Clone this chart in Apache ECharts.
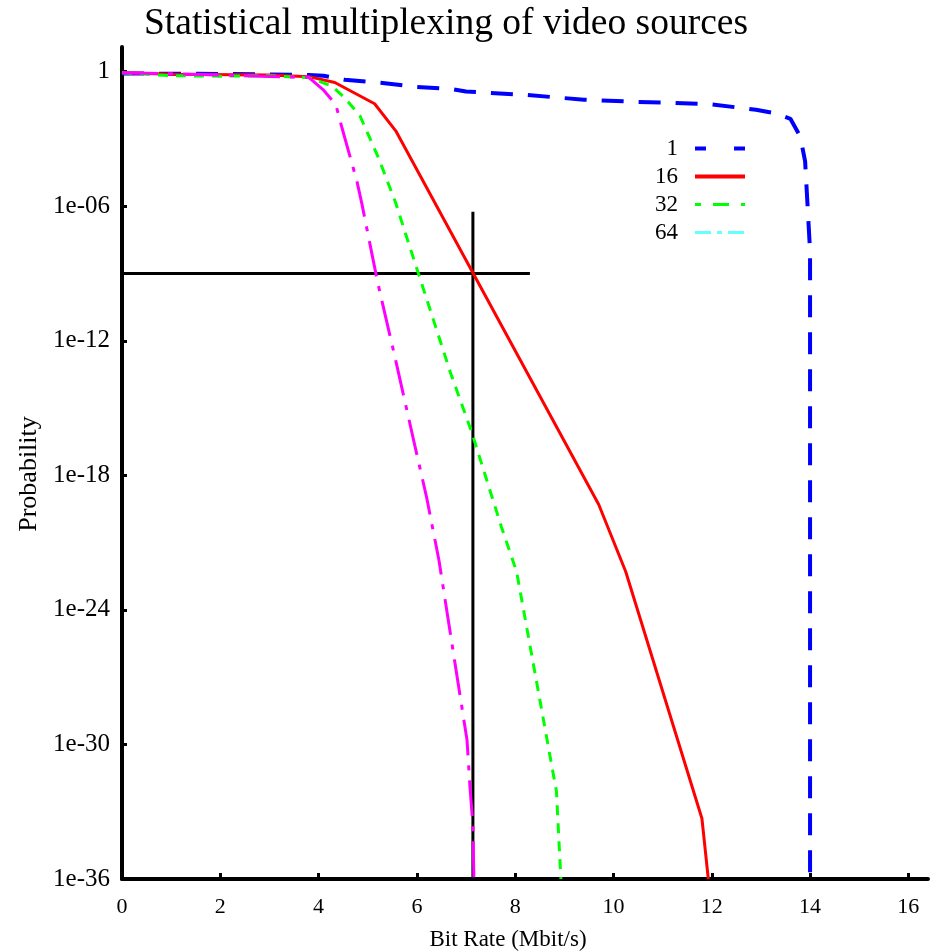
<!DOCTYPE html>
<html>
<head>
<meta charset="utf-8">
<script src="https://cdn.jsdelivr.net/npm/echarts@6/dist/echarts.min.js"></script>
<style>
  html, body { margin: 0; padding: 0; background: #ffffff; }
  #chart { width: 930px; height: 951px; }
</style>
</head>
<body>
<div id="chart"></div>
<script>
// Tail probability P(rate > x) of the aggregate bit rate for 1, 16, 32 and 64 multiplexed video sources.
const SERIF = '"Liberation Serif", "DejaVu Serif", serif';

const sourceCounts = ['1', '16', '32', '64'];

// 1 source
const rate1 = [0, 2, 3.8, 4.1, 4.53, 5.26, 6.0, 6.69, 7.0, 8.2, 9.4, 10.5, 12.0, 12.9, 13.3, 13.6, 13.8, 13.9, 13.95, 14.0, 14.0];
const prob1 = [0.83, 0.79, 0.71, 0.66, 0.44, 0.32, 0.21, 0.17, 0.13, 0.093, 0.056, 0.045, 0.035, 0.020, 0.014, 0.0079, 0.0013, 1.0e-4, 1.0e-6, 1.0e-8, 1e-36];

// 16 sources
const rate16 = [0, 1, 3, 3.8, 4.33, 5.14, 5.57, 9.7, 10.25, 11.8, 11.93];
const prob16 = [0.89, 0.76, 0.71, 0.60, 0.33, 0.037, 0.0023, 5.0e-20, 5.0e-23, 5.0e-34, 1e-36];

// 32 sources
const rate32 = [0, 1, 2, 3, 3.8, 4.27, 4.53, 4.84, 5.02, 5.22, 5.4, 5.57, 5.73, 6.02, 6.68, 7.12, 7.72, 8.03, 8.84, 8.93];
const prob32 = [0.89, 0.66, 0.63, 0.66, 0.54, 0.23, 0.069, 0.011, 0.0014, 1.4e-4, 1.3e-5, 1.4e-6, 1.1e-7, 1.2e-9, 4.0e-14, 7.9e-17, 5.0e-21, 5.0e-23, 7.9e-33, 1e-36];

// 64 sources
const rate64 = [0, 1.2, 2.8, 3.8, 4.09, 4.35, 4.47, 4.78, 4.88, 5.2, 5.57, 5.94, 6.2, 6.45, 6.77, 7.02, 7.08, 7.14, 7.16];
const prob64 = [0.89, 0.79, 0.63, 0.56, 0.16, 0.034, 0.0035, 1.3e-5, 1.3e-6, 4.2e-10, 1.3e-13, 3.2e-17, 1.0e-19, 1.6e-22, 5.0e-27, 1.6e-30, 1.3e-32, 2.5e-34, 1e-36];

// Target loss level and the rate needed by 16 sources to meet it
const targetRate = [0, 8.3];
const targetProb = [1e-9, 1e-9];
const requiredRate = [7.14, 7.14];
const requiredProb = [5.6e-7, 1e-36];

// Axis ticks
const rateTicks = [0, 2, 4, 6, 8, 10, 12, 14, 16];
const probDecades = [-36, -30, -24, -18, -12, -6, 0];

// Probabilities are plotted by their base-10 exponent
const toPoints = (xs, ps) => xs.map((x, i) => [x, Math.log10(ps[i])]);

function decadeLabel(v) {
  const e = Math.round(v);
  if (e === 0) return '1';
  const n = Math.abs(e);
  return '1e-' + (n < 10 ? '0' + n : String(n));
}

const chart = echarts.init(document.getElementById('chart'), null, { renderer: 'canvas' });

const option = {
  animation: false,
  backgroundColor: '#ffffff',
  title: {
    text: 'Statistical multiplexing of video sources',
    left: 144,
    top: 5,
    padding: 0,
    textStyle: { fontFamily: SERIF, fontSize: 37.5, fontWeight: 'normal', color: '#000000' }
  },
  legend: {
    data: [
      { name: '1', lineStyle: { color: '#0000ff', width: 4, type: [11, 28] } },
      { name: '16', lineStyle: { color: '#ff0000', width: 4, type: 'solid' } },
      { name: '32', lineStyle: { color: '#00ff00', width: 3, type: [6, 12, 16, 12] } },
      { name: '64', lineStyle: { color: '#66ffff', width: 3, type: [16, 6, 5, 6] } }
    ],
    orient: 'vertical',
    align: 'right',
    right: 183,
    top: 137,
    padding: 0,
    itemWidth: 50,
    itemHeight: 14,
    itemGap: 5,
    selectedMode: false,
    itemStyle: { color: 'transparent', borderWidth: 0 },
    textStyle: { fontFamily: SERIF, fontSize: 23, lineHeight: 22, color: '#000000', padding: [0, 12, 0, 0] }
  },
  grid: {
    left: 122,
    right: 2,
    top: 47,
    bottom: 72,
    containLabel: false,
    outerBoundsMode: 'none'
  },
  xAxis: {
    type: 'value',
    min: 0,
    max: 16.4,
    interval: 2,
    name: 'Bit Rate (Mbit/s)',
    nameLocation: 'middle',
    nameGap: 49,
    nameTextStyle: { fontFamily: SERIF, fontSize: 23, color: '#000000', padding: [0, 34, 0, 0] },
    axisLine: { onZero: false, lineStyle: { color: '#000000', width: 4 } },
    axisTick: { inside: true, length: 6, lineStyle: { color: '#000000', width: 3 }, customValues: rateTicks },
    axisLabel: {
      fontFamily: SERIF, fontSize: 22, color: '#000000', margin: 17,
      customValues: rateTicks,
      formatter: v => String(v)
    },
    splitLine: { show: false }
  },
  yAxis: {
    type: 'value',
    min: -36,
    max: 1.1,
    interval: 6,
    name: 'Probability',
    nameLocation: 'middle',
    nameRotate: 90,
    nameGap: 77,
    nameTextStyle: { fontFamily: SERIF, fontSize: 26, color: '#000000', padding: [0, 22, 0, 0] },
    axisLine: { onZero: false, lineStyle: { color: '#000000', width: 4 } },
    axisTick: { inside: true, length: 5, lineStyle: { color: '#000000', width: 3 }, customValues: probDecades },
    axisLabel: {
      fontFamily: SERIF, fontSize: 25, color: '#000000', margin: 12,
      customValues: probDecades,
      formatter: decadeLabel
    },
    splitLine: { show: false }
  },
  series: [
    {
      name: 'target loss',
      type: 'line',
      data: toPoints(targetRate, targetProb),
      symbol: 'none',
      silent: true,
      lineStyle: { color: '#000000', width: 3 }
    },
    {
      name: 'required rate',
      type: 'line',
      data: toPoints(requiredRate, requiredProb),
      symbol: 'none',
      silent: true,
      lineStyle: { color: '#000000', width: 3 }
    },
    {
      name: sourceCounts[0],
      type: 'line',
      data: toPoints(rate1, prob1),
      symbol: 'none',
      itemStyle: { color: '#0000ff' },
      lineStyle: { color: '#0000ff', width: 4, type: [22, 15] }
    },
    {
      name: sourceCounts[1],
      type: 'line',
      data: toPoints(rate16, prob16),
      symbol: 'none',
      itemStyle: { color: '#ff0000' },
      lineStyle: { color: '#ff0000', width: 3 }
    },
    {
      name: sourceCounts[2],
      type: 'line',
      data: toPoints(rate32, prob32),
      symbol: 'none',
      itemStyle: { color: '#00ff00' },
      lineStyle: { color: '#00ff00', width: 3, type: [10, 8] }
    },
    {
      name: sourceCounts[3],
      type: 'line',
      data: toPoints(rate64, prob64),
      symbol: 'none',
      itemStyle: { color: '#66ffff' },
      lineStyle: { color: '#ff00ff', width: 3, type: [36, 10, 5, 10] }
    }
  ]
};

chart.setOption(option);
</script>
</body>
</html>
